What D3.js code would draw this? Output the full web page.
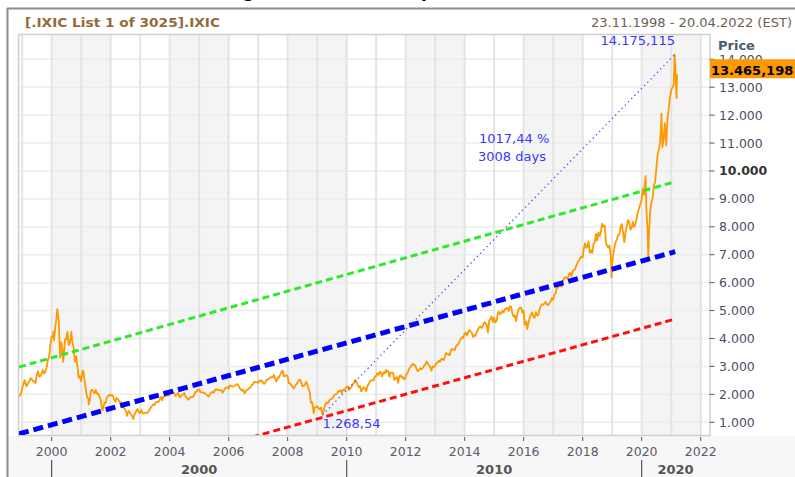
<!DOCTYPE html>
<html><head><meta charset="utf-8">
<script src="https://cdn.jsdelivr.net/npm/d3@7"></script>
<style>
body{margin:0;background:#fff;}
svg{display:block;font-family:"DejaVu Sans",sans-serif;}
</style>
</head><body>
<svg id="chart" width="795" height="477"></svg>
<script>
// ---------- data ----------
const chartTitle = "NASDAQ Long-term Chart: Composite Index (IXIC)";
const headerLeft = "[.IXIC List 1 of 3025].IXIC";
const headerRight = "23.11.1998 - 20.04.2022 (EST)";
const axisTitle = "Price";
const dateRange = ["1998-11-23", "2022-04-20"];
const yDomain = [544, 14870];
const yTicks = [1000, 2000, 3000, 4000, 5000, 6000, 7000, 8000, 9000, 10000, 11000, 12000, 13000, 14000];
const boldTick = 10000;
const xTickYears = [2000, 2002, 2004, 2006, 2008, 2010, 2012, 2014, 2016, 2018, 2020, 2022];
const decadeYears = [2000, 2010, 2020];

// closes on the 15th and last day of each month, starting November 1998
const closesStartMonth = "1998-11";
const halfMonthCloses = [
  1950, 1949, 2010, 2193,
  2350, 2506, 2360, 2288, 2420, 2461, 2580, 2543, 2470, 2470, 2400, 2686, 2830, 2638, 2650, 2739, 2880, 2746, 2800, 2966, 3220, 3336, 3750, 4069,
  4060, 3940, 4410, 4697, 4960, 4573, 3320, 3861, 3530, 3401, 3980, 3966, 4240, 3767, 3850, 4206, 3830, 3673, 3170, 3370, 3030, 2598, 2650, 2471,
  2770, 2773, 2430, 2152, 1890, 1840, 1750, 2116, 2170, 2110, 2030, 2161, 2020, 2027, 1920, 1805, 1500, 1499, 1700, 1690, 1900, 1931, 1990, 1950,
  1990, 1934, 1800, 1731, 1870, 1845, 1760, 1688, 1720, 1616, 1500, 1463, 1340, 1328, 1410, 1315, 1260, 1172, 1220, 1330, 1410, 1479, 1360, 1336,
  1440, 1321, 1310, 1337, 1340, 1341, 1390, 1464, 1540, 1596, 1650, 1623, 1720, 1735, 1720, 1810, 1910, 1787, 1920, 1932, 1940, 1960, 1950, 2003,
  2140, 2066, 2080, 2030, 1940, 1994, 2050, 1920, 1900, 1987, 1990, 2048, 1930, 1887, 1810, 1838, 1910, 1897, 1910, 1975, 2090, 2097, 2160, 2175,
  2090, 2062, 2070, 2052, 2030, 1999, 1950, 1922, 2010, 2068, 2090, 2057, 2150, 2185, 2160, 2152, 2150, 2152, 2060, 2120, 2200, 2233, 2260, 2205,
  2320, 2306, 2280, 2281, 2310, 2340, 2370, 2323, 2230, 2179, 2130, 2172, 2040, 2091, 2160, 2184, 2230, 2258, 2340, 2367, 2450, 2432, 2440, 2415,
  2500, 2464, 2500, 2416, 2380, 2422, 2520, 2525, 2560, 2605, 2620, 2603, 2700, 2546, 2460, 2596, 2600, 2702, 2800, 2859, 2640, 2661, 2680, 2652,
  2400, 2390, 2330, 2271, 2210, 2279, 2350, 2413, 2500, 2523, 2460, 2293, 2310, 2326, 2450, 2368, 2200, 2092, 1700, 1721, 1400, 1536, 1540, 1577,
  1510, 1476, 1530, 1378, 1320, 1529, 1670, 1717, 1680, 1774, 1830, 1835, 1890, 1979, 2000, 2009, 2090, 2122, 2140, 2045, 2170, 2145, 2210, 2269,
  2290, 2147, 2240, 2238, 2370, 2398, 2520, 2461, 2350, 2257, 2300, 2109, 2180, 2255, 2210, 2114, 2300, 2369, 2460, 2507, 2510, 2498, 2640, 2653,
  2760, 2700, 2810, 2782, 2640, 2781, 2750, 2874, 2800, 2835, 2630, 2774, 2790, 2756, 2510, 2579, 2620, 2415, 2650, 2684, 2590, 2620, 2540, 2605,
  2730, 2814, 2930, 2967, 3050, 3092, 3040, 3046, 2900, 2827, 2870, 2935, 2900, 2940, 3020, 3067, 3180, 3116, 3040, 2977, 2850, 3010, 2970, 3020,
  3120, 3142, 3200, 3160, 3250, 3268, 3220, 3329, 3480, 3456, 3420, 3403, 3600, 3626, 3600, 3590, 3720, 3771, 3800, 3920, 3980, 4060, 4020, 4177,
  4210, 4104, 4240, 4308, 4250, 4199, 4050, 4115, 4090, 4243, 4310, 4408, 4430, 4370, 4460, 4580, 4560, 4493, 4220, 4631, 4690, 4792, 4600, 4736,
  4570, 4635, 4900, 4964, 4870, 4901, 5000, 4941, 5050, 5070, 5100, 4987, 5160, 5128, 4880, 4777, 4830, 4620, 4870, 5054, 5100, 5109, 4930, 5007,
  4490, 4614, 4340, 4558, 4730, 4870, 4930, 4775, 4740, 4948, 4830, 4843, 5030, 5162, 5230, 5213, 5250, 5312, 5220, 5189, 5270, 5324, 5440, 5383,
  5570, 5615, 5820, 5825, 5900, 5912, 5850, 6048, 6150, 6199, 6170, 6140, 6310, 6348, 6220, 6429, 6450, 6496, 6620, 6728, 6790, 6874, 6940, 6903,
  7220, 7411, 7250, 7273, 7480, 7063, 7160, 7066, 7400, 7442, 7750, 7510, 7800, 7672, 7820, 8110, 8000, 8046, 7450, 7306, 7250, 7331, 6910, 6635,
  7030, 7282, 7470, 7533, 7690, 7729, 8000, 8095, 7820, 7453, 7800, 8006, 8240, 8175, 7900, 7963, 8180, 7999, 8090, 8292, 8540, 8665, 8810, 8973,
  9360, 9151, 9730, 8567, 7870, 7700, 8530, 8890, 9010, 9490, 9590, 10059, 10550, 10745, 11020, 11775, 10850, 11168, 11710, 10912, 11830, 12199, 12590, 12888,
  12990, 13071, 14050, 13192
];
const extremePoints = [
  ["2000-01-24", 4235], ["2000-03-10", 5048], ["2000-04-04", 4150], ["2000-05-23", 3164], ["2000-09-01", 4234], ["2001-01-24", 2859],
  ["2001-04-04", 1638], ["2001-09-21", 1423], ["2002-07-23", 1229], ["2002-10-09", 1114],
  ["2007-10-31", 2859], ["2008-11-20", 1316], ["2009-03-09", 1268.54], ["2018-08-29", 8109],
  ["2018-12-24", 6190], ["2020-02-19", 9817], ["2020-03-23", 6860], ["2020-09-02", 12056],
  ["2021-02-12", 14175], ["2021-03-08", 12609]
];
const lastPoint = ["2021-03-15", 13465.198];

const channelUpper = [["1998-11-23", 2979], ["2021-02-19", 9616]];
const channelMiddle = [["1998-11-23", 585], ["2021-02-19", 7109]];
const channelLower = [["1998-11-23", -1860], ["2021-02-19", 4698]];
const measureLine = [["2009-03-09", 1268.54], ["2021-02-16", 14175.115]];
const measureTexts = ["1017,44 %", "3008 days"];

// ---------- setup ----------
const W = 795, H = 477;
const plot = {left: 19, right: 709.5, top: 35, bottom: 435};
const parse = d3.timeParse("%Y-%m-%d");
const loc = d3.formatLocale({decimal: ",", thousands: ".", grouping: [3], currency: ["", ""]});
const fmtTick = loc.format(",d");
const fmtPrice = loc.format(",.3f");
const fmtLow = loc.format(",.2f");

const x = d3.scaleTime().domain(dateRange.map(parse)).range([plot.left, plot.right]);
const y = d3.scaleLinear().domain(yDomain).range([plot.bottom, plot.top]);

// build price series
const [sy, sm] = closesStartMonth.split("-").map(Number);
const series = halfMonthCloses.map((v, i) => {
  const m = (sm - 1) + Math.floor(i / 2);
  let d = (i % 2 === 0) ? new Date(sy, m, 15) : new Date(sy, m + 1, 0);
  const s = parse(dateRange[0]);
  if (d < s) d = s;
  return {date: d, value: v};
});
extremePoints.forEach(p => series.push({date: parse(p[0]), value: p[1]}));
series.push({date: parse(lastPoint[0]), value: lastPoint[1]});
series.sort((a, b) => a.date - b.date);

const svg = d3.select("#chart");

svg.append("rect").attr("width", W).attr("height", H).attr("fill", "#fff");

// title (cut off at top)
svg.append("text").attr("x", 360).attr("y", -3).attr("text-anchor", "middle")
  .attr("font-weight", "bold").attr("font-size", 17).attr("fill", "#000")
  .text(chartTitle);

// bottom axis background
svg.append("rect").attr("x", 8).attr("y", plot.bottom + 1).attr("width", W - 8).attr("height", H - plot.bottom - 1)
  .attr("fill", "#f7f7f7");

// frame
svg.append("line").attr("x1", 7).attr("x2", W).attr("y1", 8.5).attr("y2", 8.5).attr("stroke", "#8c8c8c").attr("stroke-width", 2);
svg.append("line").attr("x1", 7.5).attr("x2", 7.5).attr("y1", 8).attr("y2", H).attr("stroke", "#8c8c8c").attr("stroke-width", 2);

// header
svg.append("text").attr("x", 25).attr("y", 27).attr("font-weight", "bold").attr("font-size", 12.5)
  .attr("fill", "#946a38").attr("textLength", 195).attr("lengthAdjust", "spacingAndGlyphs").text(headerLeft);
svg.append("text").attr("x", 792).attr("y", 27).attr("text-anchor", "end").attr("font-size", 12.5)
  .attr("fill", "#6e6252").attr("textLength", 201).attr("lengthAdjust", "spacingAndGlyphs").text(headerRight);

// plot background
svg.append("defs").append("clipPath").attr("id", "clip").append("rect")
  .attr("x", plot.left).attr("y", plot.top).attr("width", plot.right - plot.left).attr("height", plot.bottom - plot.top);

const g = svg.append("g");
g.append("rect").attr("x", plot.left).attr("y", plot.top).attr("width", plot.right - plot.left)
  .attr("height", plot.bottom - plot.top).attr("fill", "#fff");

const allYears = d3.range(1999, 2023);
allYears.filter(yr => yr >= 2000 && (yr - 2000) % 4 === 0).forEach(yr => {
  const x0 = x(new Date(yr, 0, 1)), x1 = Math.min(plot.right, x(new Date(yr + 2, 0, 1)));
  g.append("rect").attr("x", x0).attr("y", plot.top).attr("width", x1 - x0).attr("height", plot.bottom - plot.top)
    .attr("fill", "#f4f4f4");
});
g.selectAll(".hg").data(yTicks).join("line")
  .attr("x1", plot.left).attr("x2", plot.right).attr("y1", d => y(d)).attr("y2", d => y(d))
  .attr("stroke", "#ececec").attr("stroke-width", 1.5);
g.selectAll(".vg").data(allYears.filter(yr => x(new Date(yr, 0, 1)) < plot.right)).join("line")
  .attr("x1", d => x(new Date(d, 0, 1))).attr("x2", d => x(new Date(d, 0, 1)))
  .attr("y1", plot.top).attr("y2", plot.bottom).attr("stroke", "#e4e4e4").attr("stroke-width", 2);
g.append("rect").attr("x", plot.left - 0.5).attr("y", plot.top - 0.5).attr("width", plot.right - plot.left + 1)
  .attr("height", plot.bottom - plot.top + 1).attr("fill", "none").attr("stroke", "#cfcfcf").attr("stroke-width", 1.5);

const content = svg.append("g").attr("clip-path", "url(#clip)");
const lineGen = d3.line().x(d => x(d.date)).y(d => y(d.value));
const toPts = arr => arr.map(p => ({date: parse(p[0]), value: p[1]}));

// price line
content.append("path").datum(series).attr("d", lineGen).attr("fill", "none")
  .attr("stroke", "#ff9900").attr("stroke-width", 1.8).attr("stroke-linejoin", "round");

// channel lines
content.append("path").datum(toPts(channelUpper)).attr("d", lineGen).attr("fill", "none")
  .attr("stroke", "#2ee82e").attr("stroke-width", 3).attr("stroke-dasharray", "7 4");
content.append("path").datum(toPts(channelLower)).attr("d", lineGen).attr("fill", "none")
  .attr("stroke", "#ff1010").attr("stroke-width", 3).attr("stroke-dasharray", "7 4");
content.append("path").datum(toPts(channelMiddle)).attr("d", lineGen).attr("fill", "none")
  .attr("stroke", "#0000ff").attr("stroke-width", 5).attr("stroke-dasharray", "10 5");

// measuring line
const mPts = toPts(measureLine);
content.append("path").datum(mPts).attr("d", lineGen).attr("fill", "none")
  .attr("stroke", "#4a4aff").attr("stroke-width", 1.3).attr("stroke-dasharray", "1.3 3.3");

const blue = "#3838ff";
content.append("text").attr("x", x(mPts[0].date)).attr("y", y(mPts[0].value) + 13)
  .attr("font-size", 13).attr("fill", blue).text(fmtLow(mPts[0].value));
content.append("text").attr("x", x(mPts[1].date)).attr("y", y(mPts[1].value) - 9)
  .attr("text-anchor", "end").attr("font-size", 13).attr("fill", blue).text(fmtPrice(mPts[1].value));
content.append("text").attr("x", 479).attr("y", 143).attr("font-size", 13).attr("fill", blue).text(measureTexts[0]);
content.append("text").attr("x", 478).attr("y", 161).attr("font-size", 13).attr("fill", blue).text(measureTexts[1]);

// right axis
const axisColor = "#4d4d66";
const ra = svg.append("g");
ra.selectAll(".yt").data(yTicks).join("line")
  .attr("x1", plot.right).attr("x2", plot.right + 5).attr("y1", d => y(d)).attr("y2", d => y(d))
  .attr("stroke", "#555").attr("stroke-width", 1);
ra.selectAll(".yl").data(yTicks).join("text")
  .attr("x", 719).attr("y", d => y(d) + 4.5).attr("font-size", 12.5)
  .attr("font-weight", d => d === boldTick ? "bold" : "normal")
  .attr("fill", d => d === boldTick ? "#333" : axisColor).text(d => fmtTick(d));
ra.append("text").attr("x", 718).attr("y", 50).attr("font-weight", "bold").attr("font-size", 13)
  .attr("fill", "#505a6e").text(axisTitle);
// last price box
const lastY = y(lastPoint[1]);
ra.append("rect").attr("x", 710).attr("y", lastY - 15).attr("width", 85).attr("height", 19).attr("fill", "#ff9900");
ra.append("text").attr("x", 711).attr("y", lastY + 1).attr("font-weight", "bold").attr("font-size", 13)
  .attr("fill", "#000").text(fmtPrice(lastPoint[1]));

// bottom axis
const ba = svg.append("g");
ba.selectAll(".xt").data(xTickYears).join("line")
  .attr("x1", d => x(new Date(d, 0, 1))).attr("x2", d => x(new Date(d, 0, 1)))
  .attr("y1", plot.bottom + 2).attr("y2", plot.bottom + 6).attr("stroke", "#555");
ba.selectAll(".xl").data(xTickYears).join("text")
  .attr("x", d => x(new Date(d, 0, 1))).attr("y", 456).attr("text-anchor", "middle")
  .attr("font-size", 12.5).attr("fill", "#5a5a6a").text(d => d);
decadeYears.forEach(yr => {
  const x0 = x(new Date(yr, 0, 1));
  const x1 = Math.min(plot.right, x(new Date(yr + 10, 0, 1)));
  ba.append("line").attr("x1", x0).attr("x2", x0).attr("y1", 460).attr("y2", H).attr("stroke", "#555").attr("stroke-width", 1.2);
  ba.append("text").attr("x", (x0 + x1) / 2).attr("y", 474).attr("text-anchor", "middle")
    .attr("font-weight", "bold").attr("font-size", 13).attr("fill", "#555").text(yr);
});
</script>
</body></html>
